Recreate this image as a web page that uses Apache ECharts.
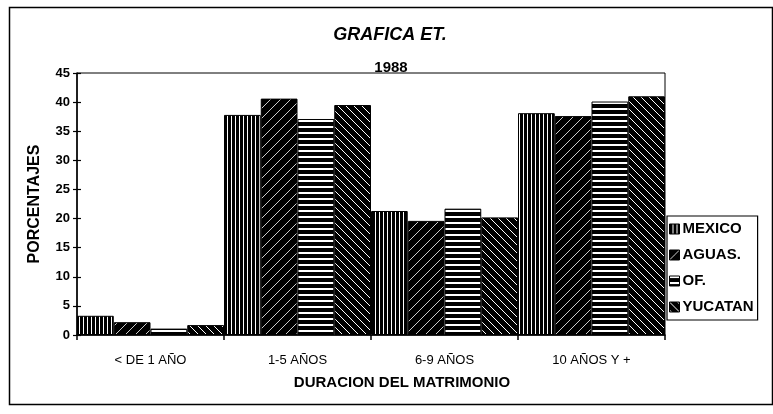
<!DOCTYPE html>
<html>
<head>
<meta charset="utf-8">
<script src="https://cdn.jsdelivr.net/npm/echarts@6/dist/echarts.min.js"></script>
<style>
  html, body { margin: 0; padding: 0; background: #fff; }
  #chart { width: 773px; height: 414px; }
</style>
</head>
<body>
<div id="chart"></div>
<script>
// Duration of marriage, percentages per region (1988)
const categories = ['< DE 1 AÑO', '1-5 AÑOS', '6-9 AÑOS', '10 AÑOS Y +'];
const mexico  = [3.3, 37.8, 21.3, 38.1];
const aguas   = [2.2, 40.6, 19.6, 37.6];
const ofi     = [1.1, 37.1, 21.7, 40.1];
const yucatan = [1.7, 39.5, 20.2, 41.0];
const seriesNames = ['MEXICO', 'AGUAS.', 'OF.', 'YUCATAN'];
const yTicks = { min: 0, max: 45, interval: 5 };

// Hatch fills, drawn on small tiles and repeated
function tile(w, h, draw) {
  const c = document.createElement('canvas');
  c.width = w; c.height = h;
  const g = c.getContext('2d');
  g.fillStyle = '#000';
  g.fillRect(0, 0, w, h);
  g.strokeStyle = '#fff';
  g.fillStyle = '#fff';
  draw(g);
  return { image: c, repeat: 'repeat' };
}
const fillVertical = tile(4, 4, g => { g.fillRect(3, 0, 1, 4); });
const fillSlash = tile(10, 10, g => {
  g.lineWidth = 0.8;
  g.beginPath();
  g.moveTo(0, 10); g.lineTo(10, 0);
  g.moveTo(-1, 1); g.lineTo(1, -1);
  g.moveTo(9, 11); g.lineTo(11, 9);
  g.stroke();
});
const fillHorizontal = tile(6, 6, g => { g.fillRect(0, 0, 6, 2); });
const fillBackslash = tile(8, 8, g => {
  g.lineWidth = 1;
  g.beginPath();
  g.moveTo(0, 0); g.lineTo(8, 8);
  g.moveTo(-1, 7); g.lineTo(1, 9);
  g.moveTo(7, -1); g.lineTo(9, 1);
  g.stroke();
});
const fills = [fillVertical, fillSlash, fillHorizontal, fillBackslash];
const values = [mexico, aguas, ofi, yucatan];

const FONT = 'Liberation Sans, Arial, sans-serif';

const chart = echarts.init(document.getElementById('chart'), null, { renderer: 'canvas' });
chart.setOption({
  animation: false,
  backgroundColor: '#fff',
  title: [
    {
      text: 'GRAFICA ET.', left: 390, top: 26, textAlign: 'center', padding: 0,
      textStyle: { fontFamily: FONT, fontSize: 18, fontWeight: 'bold', fontStyle: 'italic', color: '#000' }
    },
    {
      text: '1988', left: 391, top: 60, textAlign: 'center', padding: 0,
      textStyle: { fontFamily: FONT, fontSize: 15, fontWeight: 'bold', color: '#000' }
    }
  ],
  graphic: [{
    type: 'rect', left: 7, top: 5, z: -1,
    shape: { width: 763, height: 397 },
    style: { fill: 'none', stroke: '#000', lineWidth: 1.5 }
  }],
  legend: {
    orient: 'vertical', left: 667, top: 216,
    padding: [5, 4, 5, 2], itemGap: 10, itemWidth: 10, itemHeight: 10,
    icon: 'rect',
    backgroundColor: '#fff', borderColor: '#000', borderWidth: 1.2,
    itemStyle: { borderColor: '#000', borderWidth: 1 },
    textStyle: { fontFamily: FONT, fontSize: 15, fontWeight: 'bold', color: '#000', lineHeight: 16, padding: [0, 0, 0, -2] },
    z: 10
  },
  grid: {
    left: 77, top: 73, width: 588, height: 262,
    show: true, borderColor: '#000', borderWidth: 1
  },
  xAxis: {
    type: 'category', data: categories,
    boundaryGap: true,
    name: 'DURACION DEL MATRIMONIO', nameLocation: 'middle', nameGap: 40,
    nameTextStyle: { fontFamily: FONT, fontSize: 15, fontWeight: 'bold', color: '#000', padding: [0, 0, 0, 62] },
    axisLine: { lineStyle: { color: '#000', width: 1.5 } },
    axisTick: { show: true, length: 5, lineStyle: { color: '#000', width: 1.5 } },
    axisLabel: { fontFamily: FONT, fontSize: 13, color: '#000', margin: 19 }
  },
  yAxis: [
    {
      type: 'value', min: yTicks.min, max: yTicks.max, interval: yTicks.interval,
      name: 'PORCENTAJES', nameLocation: 'middle', nameGap: 34, nameRotate: 90,
      nameTextStyle: { fontFamily: FONT, fontSize: 16, fontWeight: 'bold', color: '#000' },
      splitLine: { show: false },
      axisLine: { show: true, lineStyle: { color: '#000', width: 1.5 } },
      axisTick: { show: true, length: 4, lineStyle: { color: '#000', width: 1.2 } },
      axisLabel: { fontFamily: FONT, fontSize: 13, fontWeight: 'bold', color: '#000', margin: 7 }
    },
    {
      type: 'value', min: yTicks.min, max: yTicks.max, interval: yTicks.interval,
      position: 'left', splitLine: { show: false },
      axisLine: { show: false },
      axisTick: { show: true, inside: true, length: 4, lineStyle: { color: '#000', width: 1.2 } },
      axisLabel: { show: false }
    }
  ],
  series: seriesNames.map((name, i) => ({
    name, type: 'bar', data: values[i],
    barGap: '0%', barCategoryGap: '0%',
    itemStyle: { color: fills[i], borderColor: '#000', borderWidth: 1 }
  }))
});
</script>
</body>
</html>
